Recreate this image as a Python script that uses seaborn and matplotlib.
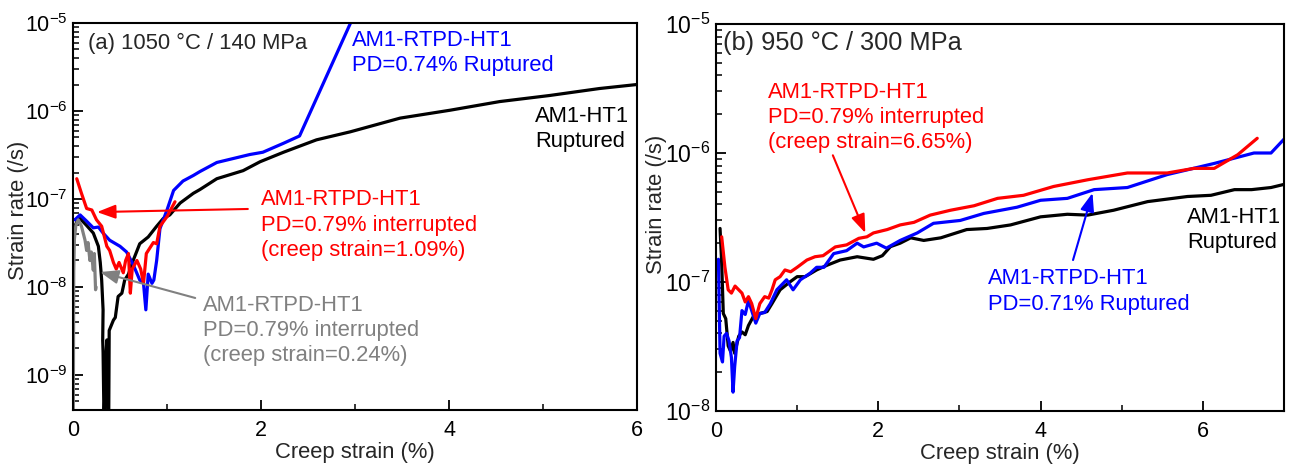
import numpy as np
import pandas as pd
import matplotlib
matplotlib.use("Agg")
import matplotlib.pyplot as plt
import matplotlib.ticker as mticker
import seaborn as sns

# ---------------- data: panel (a) 1050 C / 140 MPa ----------------
a_black_x = [0.02, 0.05, 0.075, 0.145, 0.216, 0.27, 0.29, 0.305, 0.32, 0.316, 0.32, 0.33, 0.35, 0.36, 0.37,
             0.38, 0.385, 0.43, 0.45, 0.48, 0.52, 0.55, 0.59, 0.64, 0.71, 0.80, 0.89, 0.96, 1.03, 1.14,
             1.28, 1.35, 1.53, 1.81, 1.99, 2.24, 2.59, 2.95, 3.48, 4.01, 4.54, 5.07, 5.6, 6.0]
a_black_y = [4.9e-8, 5.8e-8, 6.0e-8, 5.0e-8, 4.1e-8, 2.9e-8, 1.9e-8, 1.2e-8, 5.5e-9, 2.5e-9, 1.8e-9, 3e-10, 1.6e-9, 2.5e-9, 3e-10,
             3e-10, 3.2e-9, 4.2e-9, 4.5e-9, 7.8e-9, 8.5e-9, 1.2e-8, 1.4e-8, 2.0e-8, 3.1e-8, 3.7e-8, 4.9e-8, 6.0e-8, 6.6e-8, 9.0e-8,
             1.16e-7, 1.28e-7, 1.7e-7, 2.1e-7, 2.65e-7, 3.4e-7, 4.7e-7, 5.8e-7, 8.3e-7, 1.02e-6, 1.28e-6, 1.5e-6, 1.8e-6, 2.0e-6]

a_blue_x = [0.02, 0.075, 0.145, 0.216, 0.27, 0.32, 0.39, 0.5, 0.57, 0.64, 0.71, 0.75, 0.775, 0.80, 0.84,
            0.86, 0.89, 0.925, 1.0, 1.07, 1.17, 1.28, 1.35, 1.53, 1.88, 2.02, 2.24, 2.41, 2.97]
a_blue_y = [5.8e-8, 6.6e-8, 5.6e-8, 4.7e-8, 4.8e-8, 4.1e-8, 3.4e-8, 2.9e-8, 2.5e-8, 1.8e-8, 1.2e-8, 1.1e-8, 5.5e-9, 1.4e-8, 1.1e-8,
            1.2e-8, 2.0e-8, 4.6e-8, 7.5e-8, 1.25e-7, 1.6e-7, 1.85e-7, 2.05e-7, 2.6e-7, 3.2e-7, 3.4e-7, 4.3e-7, 5.2e-7, 1.1e-5]

a_red_x = [0.04, 0.09, 0.145, 0.2, 0.25, 0.305, 0.36, 0.39, 0.43, 0.46, 0.49, 0.535, 0.56, 0.59, 0.61,
           0.63, 0.68, 0.72, 0.75, 0.78, 0.82, 0.855, 0.89, 0.925, 1.0, 1.085]
a_red_y = [1.7e-7, 1.16e-7, 7.8e-8, 7.5e-8, 5.8e-8, 4.9e-8, 2.9e-8, 2.6e-8, 1.9e-8, 1.6e-8, 1.9e-8, 1.45e-8, 2.0e-8, 2.4e-8, 8.5e-9,
           1.6e-8, 2.0e-8, 1.6e-8, 1.1e-8, 2.4e-8, 2.8e-8, 3.2e-8, 3.1e-8, 4.9e-8, 6.3e-8, 9.3e-8]

a_gray_x = [0.003, 0.008, 0.015, 0.03, 0.056, 0.09, 0.128, 0.145, 0.16, 0.18, 0.195, 0.216, 0.227, 0.24, 0.245]
a_gray_y = [3e-10, 1.5e-8, 3.5e-8, 5.0e-8, 5.8e-8, 4.9e-8, 3.4e-8, 2.6e-8, 3.2e-8, 2.0e-8, 2.5e-8, 1.55e-8, 2.4e-8, 9.3e-9, 1.0e-8]

# ---------------- data: panel (b) 950 C / 300 MPa ----------------
b_red_x = [0.07, 0.11, 0.15, 0.19, 0.235, 0.32, 0.36, 0.4, 0.44, 0.49, 0.54, 0.6, 0.65, 0.69, 0.73,
           0.79, 0.85, 0.92, 1.0, 1.12, 1.22, 1.32, 1.47, 1.61, 1.76, 1.86, 1.94, 2.11, 2.27, 2.44,
           2.64, 2.89, 3.18, 3.47, 3.79, 4.16, 4.58, 5.07, 5.56, 5.89, 6.14, 6.43, 6.67]
b_red_y = [2.24e-7, 1.3e-7, 8.7e-8, 8.2e-8, 9.3e-8, 8.2e-8, 7.0e-8, 7.7e-8, 6.8e-8, 5.2e-8, 6.8e-8, 7.7e-8, 7.5e-8, 8.7e-8, 1.04e-7,
           1.1e-7, 1.24e-7, 1.2e-7, 1.3e-7, 1.48e-7, 1.57e-7, 1.6e-7, 1.87e-7, 1.94e-7, 2.18e-7, 2.24e-7, 2.4e-7, 2.55e-7, 2.77e-7, 2.9e-7,
           3.3e-7, 3.6e-7, 3.9e-7, 4.45e-7, 4.7e-7, 5.5e-7, 6.2e-7, 7.0e-7, 7.0e-7, 7.6e-7, 7.6e-7, 9.7e-7, 1.3e-6]

b_blue_x = [0.03, 0.05, 0.08, 0.1, 0.13, 0.16, 0.19, 0.21, 0.23, 0.26, 0.29, 0.32, 0.36, 0.4, 0.44,
            0.49, 0.54, 0.6, 0.67, 0.75, 0.87, 0.95, 1.04, 1.16, 1.24, 1.33, 1.45, 1.61, 1.74, 1.82,
            1.98, 2.1, 2.27, 2.48, 2.68, 3.01, 3.3, 3.71, 4.0, 4.33, 4.66, 5.07, 5.56, 6.14, 6.63, 6.84, 7.02]
b_blue_y = [1.5e-7, 2.8e-8, 2.4e-8, 3.8e-8, 4.0e-8, 3.5e-8, 2.6e-8, 1.4e-8, 2.2e-8, 3.5e-8, 3.7e-8, 6.0e-8, 5.6e-8, 7.2e-8, 6.0e-8,
            4.8e-8, 5.7e-8, 5.8e-8, 6.8e-8, 8.7e-8, 1.04e-7, 8.7e-8, 1.04e-7, 1.17e-7, 1.3e-7, 1.3e-7, 1.66e-7, 1.75e-7, 2.0e-7, 1.87e-7,
            2.0e-7, 1.83e-7, 2.1e-7, 2.4e-7, 2.85e-7, 3.0e-7, 3.4e-7, 3.8e-7, 4.3e-7, 4.45e-7, 5.2e-7, 5.4e-7, 6.8e-7, 8.3e-7, 1.0e-6, 1.0e-6, 1.32e-6]

b_black_x = [0.05, 0.07, 0.09, 0.12, 0.15, 0.18, 0.21, 0.23, 0.28, 0.32, 0.36, 0.4, 0.46, 0.54, 0.63,
             0.69, 0.79, 0.91, 1.0, 1.1, 1.24, 1.37, 1.53, 1.74, 1.94, 2.05, 2.15, 2.27, 2.4, 2.56,
             2.77, 3.09, 3.34, 3.63, 4.0, 4.33, 4.58, 4.9, 5.32, 5.81, 6.1, 6.39, 6.6, 6.84, 7.02]
b_black_y = [2.6e-7, 1.4e-7, 5.7e-8, 5.2e-8, 3.2e-8, 2.9e-8, 3.4e-8, 2.8e-8, 3.8e-8, 4.1e-8, 3.9e-8, 4.6e-8, 5.4e-8, 5.7e-8, 5.9e-8,
             6.8e-8, 8.7e-8, 1.0e-7, 1.1e-7, 1.1e-7, 1.24e-7, 1.35e-7, 1.48e-7, 1.57e-7, 1.5e-7, 1.6e-7, 1.88e-7, 2.0e-7, 2.2e-7, 2.1e-7,
             2.2e-7, 2.55e-7, 2.6e-7, 2.77e-7, 3.2e-7, 3.35e-7, 3.3e-7, 3.6e-7, 4.2e-7, 4.6e-7, 4.7e-7, 5.2e-7, 5.2e-7, 5.4e-7, 5.75e-7]

a_yticks = [1e-9, 1e-8, 1e-7, 1e-6, 1e-5]
b_yticks = [1e-8, 1e-7, 1e-6, 1e-5]
xticks_major = [0, 2, 4, 6]

# ---------------- style ----------------
sns.set_style("ticks")
plt.rcParams.update({
    "font.family": ["Liberation Sans", "DejaVu Sans"],
    "mathtext.fontset": "custom",
    "mathtext.rm": "Liberation Sans",
    "mathtext.default": "regular",
    "xtick.direction": "in",
    "ytick.direction": "in",
    "xtick.color": "black",
    "ytick.color": "black",
    "xtick.major.size": 7,
    "ytick.major.size": 7,
    "xtick.minor.size": 4,
    "ytick.minor.size": 4,
    "xtick.major.width": 1.3,
    "ytick.major.width": 1.3,
    "xtick.minor.width": 1.1,
    "ytick.minor.width": 1.1,
    "axes.edgecolor": "black",
    "axes.linewidth": 1.5,
})

FS = 15.8
LW = 2.3
LS = 1.27
RED, BLUE, BLACK, GRAY = "#ff0000", "#0000ff", "#000000", "#808080"

fig = plt.figure(figsize=(12.9, 4.66), dpi=100)
axA = fig.add_axes([73 / 1290, 1 - 410 / 466, 564 / 1290, 387 / 466])
axB = fig.add_axes([716 / 1290, 1 - 411 / 466, 568 / 1290, 387 / 466])


def draw(ax, x, y, color):
    sns.lineplot(x=np.asarray(x), y=np.asarray(y), ax=ax, color=color, lw=LW,
                 sort=False, estimator=None, legend=False)


draw(axA, a_black_x, a_black_y, BLACK)
draw(axA, a_blue_x, a_blue_y, BLUE)
draw(axA, a_red_x, a_red_y, RED)
draw(axA, a_gray_x, a_gray_y, GRAY)

draw(axB, b_black_x, b_black_y, BLACK)
draw(axB, b_blue_x, b_blue_y, BLUE)
draw(axB, b_red_x, b_red_y, RED)


def fmt(v, p):
    return r"$10^{%d}$" % int(round(np.log10(v)))


for ax, xmax, ymin, yt, ysz in [(axA, 6, 4e-10, a_yticks, 15.5), (axB, 7, 1e-8, b_yticks, 16.5)]:
    ax.set_yscale("log")
    ax.set_xlim(0, xmax)
    ax.set_ylim(ymin, 1e-5)
    ax.xaxis.set_major_locator(mticker.FixedLocator(xticks_major))
    ax.xaxis.set_minor_locator(mticker.FixedLocator(np.arange(1, xmax + 0.5, 2)))
    ax.yaxis.set_major_locator(mticker.FixedLocator(yt))
    minors = [m * d for d in [1e-10] + yt[:-1] for m in range(2, 10) if ymin <= m * d <= 1e-5]
    ax.yaxis.set_minor_locator(mticker.FixedLocator(minors))
    ax.yaxis.set_major_formatter(mticker.FuncFormatter(fmt))
    ax.yaxis.set_minor_formatter(mticker.NullFormatter())
    ax.tick_params(which="both", direction="in", bottom=True, left=True, top=False, right=False, color="black")
    ax.tick_params(which="major", length=7, width=1.3)
    ax.tick_params(which="minor", length=4, width=1.1)
    ax.tick_params(axis="x", which="major", pad=7, labelsize=15.5)
    ax.tick_params(axis="y", which="major", pad=4, labelsize=ysz)
    for s in ax.spines.values():
        s.set_linewidth(1.5)
        s.set_color("black")
        s.set_visible(True)
    ax.set_xlabel("Creep strain (%)", fontsize=FS)
    ax.set_ylabel("Strain rate (/s)", fontsize=FS)
    ax.xaxis.set_label_coords(0.5, -0.083)

axA.yaxis.set_label_coords(-0.078, 0.515)
axB.yaxis.set_label_coords(-0.086, 0.535)

# ---------------- annotations panel (a) ----------------
axA.text(0.027, 0.946, "(a) 1050 °C / 140 MPa", transform=axA.transAxes, fontsize=FS, va="center", ha="left")
axA.text(0.4947, 0.922, "AM1-RTPD-HT1\nPD=0.74% Ruptured", transform=axA.transAxes, fontsize=FS,
         va="center", ha="left", color=BLUE, linespacing=LS)
axA.text(0.819, 0.726, "AM1-HT1\nRuptured", transform=axA.transAxes, fontsize=FS,
         va="center", ha="left", color=BLACK, linespacing=LS)
axA.text(0.3333, 0.478, "AM1-RTPD-HT1\nPD=0.79% interrupted\n(creep strain=1.09%)", transform=axA.transAxes,
         fontsize=FS, va="center", ha="left", color=RED, linespacing=LS)
axA.text(0.2305, 0.205, "AM1-RTPD-HT1\nPD=0.79% interrupted\n(creep strain=0.24%)", transform=axA.transAxes,
         fontsize=FS, va="center", ha="left", color=GRAY, linespacing=LS)

arrow_kw = dict(arrowstyle="-|>,head_length=0.8,head_width=0.3", lw=1.5, mutation_scale=14, shrinkA=0, shrinkB=0)
axA.annotate("", xy=(0.255, 7.1e-8), xytext=(1.86, 7.7e-8), arrowprops=dict(color=RED, **arrow_kw))
axA.annotate("", xy=(0.287, 1.48e-8), xytext=(1.30, 7.5e-9), arrowprops=dict(color=GRAY, **arrow_kw))

# ---------------- annotations panel (b) ----------------
axB.text(0.012, 0.951, "(b) 950 °C / 300 MPa", transform=axB.transAxes, fontsize=18.3, va="center", ha="left")
axB.text(0.0915, 0.758, "AM1-RTPD-HT1\nPD=0.79% interrupted\n(creep strain=6.65%)", transform=axB.transAxes,
         fontsize=FS, va="center", ha="left", color=RED, linespacing=LS)
axB.text(0.479, 0.309, "AM1-RTPD-HT1\nPD=0.71% Ruptured", transform=axB.transAxes, fontsize=FS,
         va="center", ha="left", color=BLUE, linespacing=LS)
axB.text(0.829, 0.468, "AM1-HT1\nRuptured", transform=axB.transAxes, fontsize=FS,
         va="center", ha="left", color=BLACK, linespacing=LS)
axB.annotate("", xy=(1.84, 2.4e-7), xytext=(1.44, 9.6e-7), arrowprops=dict(color=RED, **arrow_kw))
axB.annotate("", xy=(4.64, 4.9e-7), xytext=(4.40, 1.48e-7), arrowprops=dict(color=BLUE, **arrow_kw))

fig.savefig("out.png", dpi=100)
